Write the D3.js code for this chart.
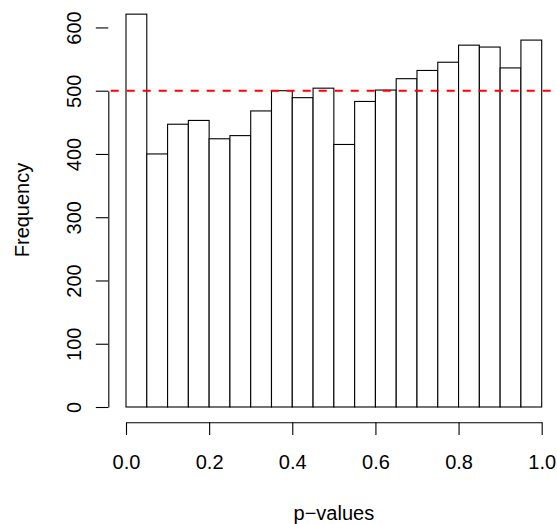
<!DOCTYPE html>
<html>
<head>
<meta charset="utf-8">
<script src="https://cdn.jsdelivr.net/npm/d3@7"></script>
<style>
  body { margin: 0; background: #fff; }
  text { font-family: "Liberation Sans", Arial, sans-serif; }
</style>
</head>
<body>
<div id="chart"></div>
<script>
// histogram bins (0 to 1 by 0.05) and their counts
let binEdges = d3.range(0, 1.0001, 0.05).map(v => +v.toFixed(2));
let counts = [621, 400, 447, 453, 424, 429, 468, 500, 489, 504,
              415, 483, 501, 519, 532, 545, 572, 569, 536, 580];
let xTicks = [0, 0.2, 0.4, 0.6, 0.8, 1.0];
let yTicks = [0, 100, 200, 300, 400, 500, 600];
let refLine = 500;

let width = 557;
let height = 524;
let fontSize = "20px";

let svg = d3.select("#chart")
    .append("svg")
    .attr("width", width)
    .attr("height", height);

// scales
let x = d3.scaleLinear().domain([0, 1]).range([126, 541.7]);
let y = d3.scaleLinear().domain([0, 500]).range([407, 90.7]);

let bins = counts.map((c, i) => ({x0: binEdges[i], x1: binEdges[i + 1], n: c}));

// bars
svg.selectAll("rect.bar")
    .data(bins)
    .enter()
    .append("rect")
    .attr("class", "bar")
    .attr("x", d => x(d.x0))
    .attr("width", d => x(d.x1) - x(d.x0))
    .attr("y", d => y(d.n))
    .attr("height", d => y(0) - y(d.n))
    .attr("fill", "white")
    .attr("stroke", "black")
    .attr("stroke-width", 1.1);

// x axis
let xAxis = svg.append("g")
    .attr("transform", "translate(0,422.3)")
    .call(d3.axisBottom(x).tickValues(xTicks).tickSize(12.7).tickSizeOuter(0)
        .tickFormat(d3.format(".1f")));
xAxis.select(".domain").attr("stroke-width", 1.1);
xAxis.selectAll(".tick line").attr("stroke-width", 1.1);
xAxis.selectAll("text")
    .attr("y", 469 - 422.3).attr("dy", 0)
    .style("font-size", fontSize).attr("fill", "black")
    .style("font-family", "'Liberation Sans', Arial, sans-serif");

// y axis
let yAxis = svg.append("g")
    .attr("transform", "translate(108.3,0)")
    .call(d3.axisLeft(y).tickValues(yTicks).tickSize(12.5).tickSizeOuter(0)
        .tickFormat(d3.format("d")));
yAxis.select(".domain").attr("stroke-width", 1.1);
yAxis.selectAll(".tick line").attr("stroke-width", 1.1);
yAxis.selectAll("text")
    .attr("x", 0).attr("dy", 0)
    .attr("transform", "translate(-27.3,0) rotate(-90)")
    .attr("text-anchor", "middle")
    .style("font-size", fontSize).attr("fill", "black")
    .style("font-family", "'Liberation Sans', Arial, sans-serif");

// reference line
svg.append("line")
    .attr("x1", 109.7).attr("x2", width)
    .attr("y1", y(refLine)).attr("y2", y(refLine))
    .attr("stroke", "#ff0000")
    .attr("stroke-width", 2)
    .attr("stroke-dasharray", "8,8")
    .attr("stroke-dashoffset", -1);

// axis titles
svg.append("text")
    .attr("x", (x(0) + x(1)) / 2)
    .attr("y", 520)
    .attr("text-anchor", "middle")
    .style("font-size", fontSize)
    .text("p\u2212values");

svg.append("text")
    .attr("transform", "translate(28.5,210) rotate(-90)")
    .attr("text-anchor", "middle")
    .style("font-size", fontSize)
    .text("Frequency");
</script>
</body>
</html>
